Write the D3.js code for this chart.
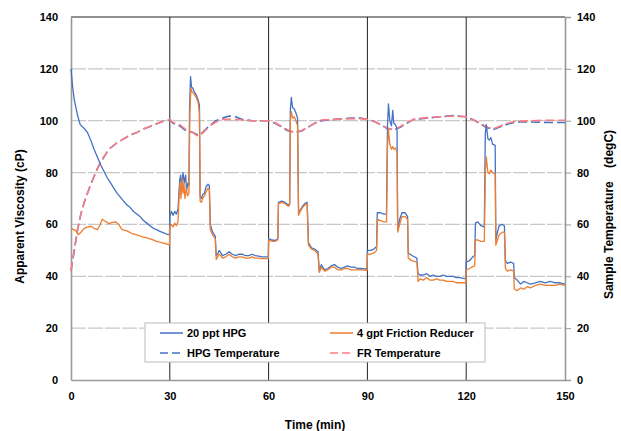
<!DOCTYPE html>
<html>
<head>
<meta charset="utf-8">
<script src="https://cdn.jsdelivr.net/npm/d3@7"></script>
<style>
  body { margin: 0; background: #fff; }
  text { font-family: "Liberation Sans", Arial, sans-serif; font-weight: bold; fill: #000; }
</style>
</head>
<body>
<script>
// time (min), value pairs
const hpgVisc = [[0,120],[0.5,113],[1,108],[2,102],[2.8,98.5],[4,97],[5,95.5],[6,92.5],[7,89],[8,86],[9,83],[10,80.5],[11,78],[12,76],[13,74],[14,72],[15,70.5],[16,69],[17,67.5],[18,66.5],[19,65],[20,64],[21,63],[22,61.5],[23,60.5],[24,59.5],[25,58.5],[26,58],[27,57.3],[28,56.8],[29,56.3],[29.9,56],
  [30,63],[30.5,65],[31,63.5],[31.5,65],[32,64],[32.5,66],[33,77],[33.3,79],[33.6,74],[34,80],[34.4,76],[34.8,79],[35.1,73],[35.5,76],[35.8,75],[36,105],[36.3,117],[36.6,113],[37,112.5],[37.5,111],[38,110],[38.6,108],[39,106],[39.2,71],[39.6,70],[40,71.5],[40.5,72],[41,74.5],[41.6,75.5],[42,75],[42.3,60],[43,57],[43.8,55.5],[44.1,48],[44.5,48.5],[45,50],[45.5,49],[46,48],[47,48.5],[48,49.5],[49,48.5],[50,48],[51,48.5],[52,48.5],[53,48],[54,48],[55,48.5],[56,48],[57,47.8],[58,47.5],[59.9,47.5],
  [60,54.5],[61,54],[62,53.8],[62.8,54.5],[63,68.5],[64,69],[65,68.5],[66,67.5],[66.4,68],[66.6,104],[66.9,109],[67.3,105],[67.8,104.5],[68.3,103],[68.8,101],[69.1,64],[69.6,65.5],[70.3,67],[71,68],[71.7,68.5],[72.1,53],[73,51],[74,50.5],[75,49.5],[75.4,42],[76,44.5],[77,42.5],[78,43],[79,44],[80,44.5],[81,43.5],[82,43],[83,43.5],[84,44],[85,43.5],[86,43.5],[87,43],[88,43],[89.9,42.8],
  [90,50],[91,50],[92,50.5],[92.8,51.5],[93,64.5],[94,64.5],[95,64],[95.8,64],[96.1,98],[96.4,106.5],[96.8,100],[97.3,98],[97.7,104],[98,99],[98.5,98.5],[99,97],[99.2,58],[99.8,62],[100.5,64.5],[101.5,64.5],[102.2,63],[102.4,49],[103.5,48],[105,47],[105.4,41],[106,40.5],[107,40.5],[108,41],[109,40],[110,40.5],[111,40],[112,40],[113,40.5],[114,40],[115,40],[116,40],[117,39.5],[118,39.5],[119.9,39],
  [120,45.5],[121,46],[122,47.5],[122.6,48],[122.8,60.5],[123.5,61],[124.5,59.5],[125.5,59],[125.8,95],[126.1,98.5],[126.6,93],[127,92.5],[127.5,93.5],[128,91],[128.8,90.5],[129,54],[129.5,57],[130,59.5],[131,60],[131.6,59.5],[131.9,46],[132.5,45],[133.5,45.5],[134.4,45],[134.6,39.5],[135.5,38.5],[136.5,37],[137.5,38],[138.5,37.5],[139.5,37],[141,37.5],[142.5,38],[144,37.5],[145.5,38],[147,37.5],[148.5,37.5],[150,37]]

const frVisc = [[0,58.5],[0.8,58],[1.5,57.5],[2.2,56],[3,57],[4,58.5],[5,59],[6,59.3],[7,58.5],[8,58],[8.7,59.5],[9.5,62],[10.3,61.3],[11.5,60.3],[12.5,60.8],[13.5,61],[14.5,60],[15.5,58],[17,57.5],[18.5,56.5],[20,56],[21.5,55.3],[23,54.8],[24.5,54.2],[26,53.5],[27.5,53],[29,52.5],[29.9,52],
  [30,59],[30.5,60],[31,59],[31.5,60.5],[32,59.5],[32.5,61],[32.8,70],[33.1,76],[33.4,70],[33.7,78],[34,72],[34.3,76],[34.6,70],[35,74],[35.4,71],[35.8,72],[36.1,103],[36.4,112.5],[36.8,111],[37.3,110.5],[38,109],[38.6,107],[39,103],[39.2,69],[39.6,68.5],[40,70],[40.5,71],[41,72.5],[41.6,74],[42,73.5],[42.3,58],[43,56],[43.8,54.5],[44.1,46.5],[44.5,47.5],[45,48.5],[45.5,48],[46,47],[47,47.5],[48,48.5],[49,47.5],[50,47],[51,47.5],[52,47.5],[53,47],[54,47],[55,47.5],[56,47],[57,47],[58,46.8],[59.9,46.8],
  [60,54],[61,53.5],[62,53.5],[62.8,54],[63,68],[64,68.5],[65,68],[66,67],[66.4,67.5],[66.6,100],[66.9,103.5],[67.3,101],[67.8,101.5],[68.3,100],[68.8,98],[69.1,63.5],[69.6,65],[70.3,66.5],[71,67.5],[71.7,68],[72.1,52],[73,50.5],[74,50],[75,48.5],[75.4,41.5],[76,43.5],[77,42],[78,42.5],[79,43.5],[80,43.5],[81,42.5],[82,42.5],[83,43],[84,43],[85,42.5],[86,42.5],[87,42.5],[88,42.5],[89.9,42.3],
  [90,48.5],[91,48.5],[92,49],[92.8,50],[93,62],[94,61.5],[95,61],[95.8,61],[96.1,90],[96.4,96.5],[96.8,91],[97.3,89],[97.7,90],[98,89],[98.5,89.5],[99,88],[99.2,57],[99.8,60],[100.5,63],[101.5,63],[102.2,62],[102.4,47],[103.5,46],[105,45.5],[105.4,38],[106,39],[107,38.5],[108,39.5],[109,38.5],[110,38.5],[111,39],[112,38.5],[113,38.5],[114,38],[115,38],[116,38],[117,37.5],[118,37.5],[119.9,37.5],
  [120,42.5],[121,43],[122,43.7],[122.6,44],[122.8,54],[123.5,54],[124.5,53.5],[125.5,53.5],[125.8,80],[126.1,86],[126.6,80],[127,79.5],[127.5,81],[128,80],[128.8,79.5],[129,52],[129.5,54],[130,56],[131,57],[131.6,57],[131.9,43],[132.5,42],[133.5,42.5],[134.4,42],[134.6,35],[135.5,34.5],[136.5,35.5],[137.5,35],[138.5,36],[139.5,35.5],[141,36.5],[142.5,37],[144,36.5],[145.5,36.5],[147,36.5],[148.5,37],[150,36.5]]

const hpgTemp = [[0,42],[1,50],[2,58],[3,64],[4,68.5],[5,72],[6,75.5],[7,78.5],[8,81.5],[9,84],[10,86],[11,88],[12,89.5],[13,90.5],[14,91.5],[16,93],[18,94.5],[20,95.5],[22,96.8],[24,97.8],[26,98.8],[28,99.8],[30,100.5],[31,99],[33,98],[35,96],[37,95.5],[38.5,94.5],[40,95.5],[42,98],[44,100],[46,101],[48,101.8],[50,101.5],[52,100.5],[55,100],[58,100],[60,100],[62,99],[64,97.5],[66,96],[68,95.5],[70,96],[72,97.5],[74,99],[76,100],[80,100.5],[85,101],[88,101],[90,100.5],[92,99.8],[94,98.5],[96,97],[98,96.5],[100,97.5],[102,99],[104,100.5],[108,101],[112,101.5],[116,102],[120,101.5],[122,100.5],[124,99],[126,97.5],[128,96.5],[130,97.5],[132,98.5],[135,99.5],[140,99.5],[145,99.3],[150,99.3]]

const frTemp = [[0,42],[1,50.5],[2,58],[3,64],[4,68.5],[5,72],[6,75.5],[7,78.5],[8,81.5],[9,84],[10,86],[11,88],[12,89.5],[13,90.5],[14,91.5],[16,93],[18,94.5],[20,95.5],[22,96.8],[24,97.8],[26,98.8],[28,99.8],[30,100.5],[31,99.3],[33,98.5],[35,96.5],[37,95.5],[38.5,94],[40,95.2],[42,97.8],[44,99.5],[46,100.5],[48,100.5],[50,100.5],[52,100.3],[55,100],[58,100],[60,100],[62,99.2],[64,97.8],[66,96.3],[68,95.5],[70,96.2],[72,97.5],[74,99],[76,100.3],[80,100.5],[85,100.8],[88,100.8],[90,100.5],[92,99.8],[94,98.5],[96,97.2],[98,96.5],[100,97.8],[102,99.2],[104,100.5],[108,101.2],[112,101.5],[116,101.8],[120,101.5],[122,100.5],[124,99.2],[126,97.8],[128,96.8],[130,97.8],[132,98.8],[135,99.8],[140,100],[145,100.2],[150,100.2]]

const xTicks = [0, 30, 60, 90, 120, 150]
const yTicks = [0, 20, 40, 60, 80, 100, 120, 140]

const W = 621, H = 431
const m = { left: 71, right: 565, top: 17, bottom: 380 }

const svg = d3.select('body').append('svg')
  .attr('width', W).attr('height', H)

const x = d3.scaleLinear().domain([0, 150]).range([m.left, m.right])
const y = d3.scaleLinear().domain([0, 140]).range([m.bottom, m.top])

// horizontal gridlines
svg.append('g').selectAll('line')
  .data(yTicks.filter(d => d > 0 && d < 140)).enter().append('line')
  .attr('x1', m.left).attr('x2', m.right)
  .attr('y1', d => y(d)).attr('y2', d => y(d))
  .attr('stroke', '#c8c8c8').attr('stroke-width', 1.3)
  .attr('stroke-dasharray', '15,2')

// top border
svg.append('line')
  .attr('x1', m.left).attr('x2', m.right)
  .attr('y1', y(140)).attr('y2', y(140))
  .attr('stroke', '#222').attr('stroke-width', 1)

// vertical separators
svg.append('g').selectAll('line')
  .data(xTicks.slice(1, -1)).enter().append('line')
  .attr('x1', d => x(d)).attr('x2', d => x(d))
  .attr('y1', m.top).attr('y2', m.bottom)
  .attr('stroke', '#222').attr('stroke-width', 1)

// axes
const leftAxis = svg.append('g').attr('transform', `translate(${m.left},0)`)
  .call(d3.axisLeft(y).tickValues(yTicks).tickSize(0).tickPadding(13))
const rightAxis = svg.append('g').attr('transform', `translate(${m.right},0)`)
  .call(d3.axisRight(y).tickValues(yTicks).tickSize(6).tickPadding(6))
const bottomAxis = svg.append('g').attr('transform', `translate(0,${m.bottom})`)
  .call(d3.axisBottom(x).tickValues(xTicks).tickSize(0).tickPadding(12))

;[leftAxis, rightAxis, bottomAxis].forEach(a => {
  a.select('.domain').attr('stroke', '#999').attr('stroke-width', 1.6)
  a.selectAll('.tick line').attr('stroke', '#999')
  a.selectAll('text').style('font-size', '11px').style('font-weight', 'bold')
    .style('font-family', '"Liberation Sans", Arial, sans-serif').attr('fill', '#111')
})
bottomAxis.selectAll('text').filter(d => d === 150).attr('dx', 0)

// series
const line = d3.line().x(d => x(d[0])).y(d => y(d[1]))

const series = [
  { data: hpgTemp, color: '#4472C4', dash: '9,4', width: 1.6 },
  { data: frTemp, color: '#FF7C80', dash: '9,4', width: 1.6 },
  { data: hpgVisc, color: '#4472C4', dash: null, width: 1.3 },
  { data: frVisc, color: '#ED7D31', dash: null, width: 1.3 }
]
series.forEach(s => {
  svg.append('path').datum(s.data)
    .attr('d', line)
    .attr('fill', 'none')
    .attr('stroke', s.color)
    .attr('stroke-width', s.width)
    .attr('stroke-dasharray', s.dash)
    .attr('stroke-linejoin', 'round')
})

// legend
const lg = svg.append('g')
lg.append('rect')
  .attr('x', 145).attr('y', 323).attr('width', 340).attr('height', 39)
  .attr('fill', '#fff').attr('stroke', '#bbb').attr('stroke-width', 1)

const legendItems = [
  { label: '20 ppt HPG', color: '#4472C4', dash: null, lx: 160, ly: 333 },
  { label: '4 gpt Friction Reducer', color: '#ED7D31', dash: null, lx: 330, ly: 333 },
  { label: 'HPG Temperature', color: '#4472C4', dash: '8,4', lx: 160, ly: 353 },
  { label: 'FR Temperature', color: '#FF7C80', dash: '8,4', lx: 330, ly: 353 }
]
legendItems.forEach(d => {
  lg.append('line')
    .attr('x1', d.lx).attr('x2', d.lx + 23)
    .attr('y1', d.ly).attr('y2', d.ly)
    .attr('stroke', d.color).attr('stroke-width', 1.5)
    .attr('stroke-dasharray', d.dash)
  lg.append('text')
    .attr('x', d.lx + 27).attr('y', d.ly).attr('dy', '0.35em')
    .style('font-size', '11px')
    .text(d.label)
})

// axis titles
svg.append('text')
  .attr('transform', `translate(24,${(m.top + m.bottom) / 2 + 18}) rotate(-90)`)
  .attr('text-anchor', 'middle')
  .style('font-size', '12px')
  .text('Apparent Viscosity (cP)')

svg.append('text')
  .attr('transform', `translate(613,${(m.top + m.bottom) / 2 + 16}) rotate(-90)`)
  .attr('text-anchor', 'middle')
  .attr('xml:space', 'preserve')
  .style('white-space', 'pre')
  .style('font-size', '12px')
  .text('Sample Temperature    (degC)')

svg.append('text')
  .attr('x', 315).attr('y', 429)
  .attr('text-anchor', 'middle')
  .style('font-size', '12px')
  .text('Time (min)')
</script>
</body>
</html>
